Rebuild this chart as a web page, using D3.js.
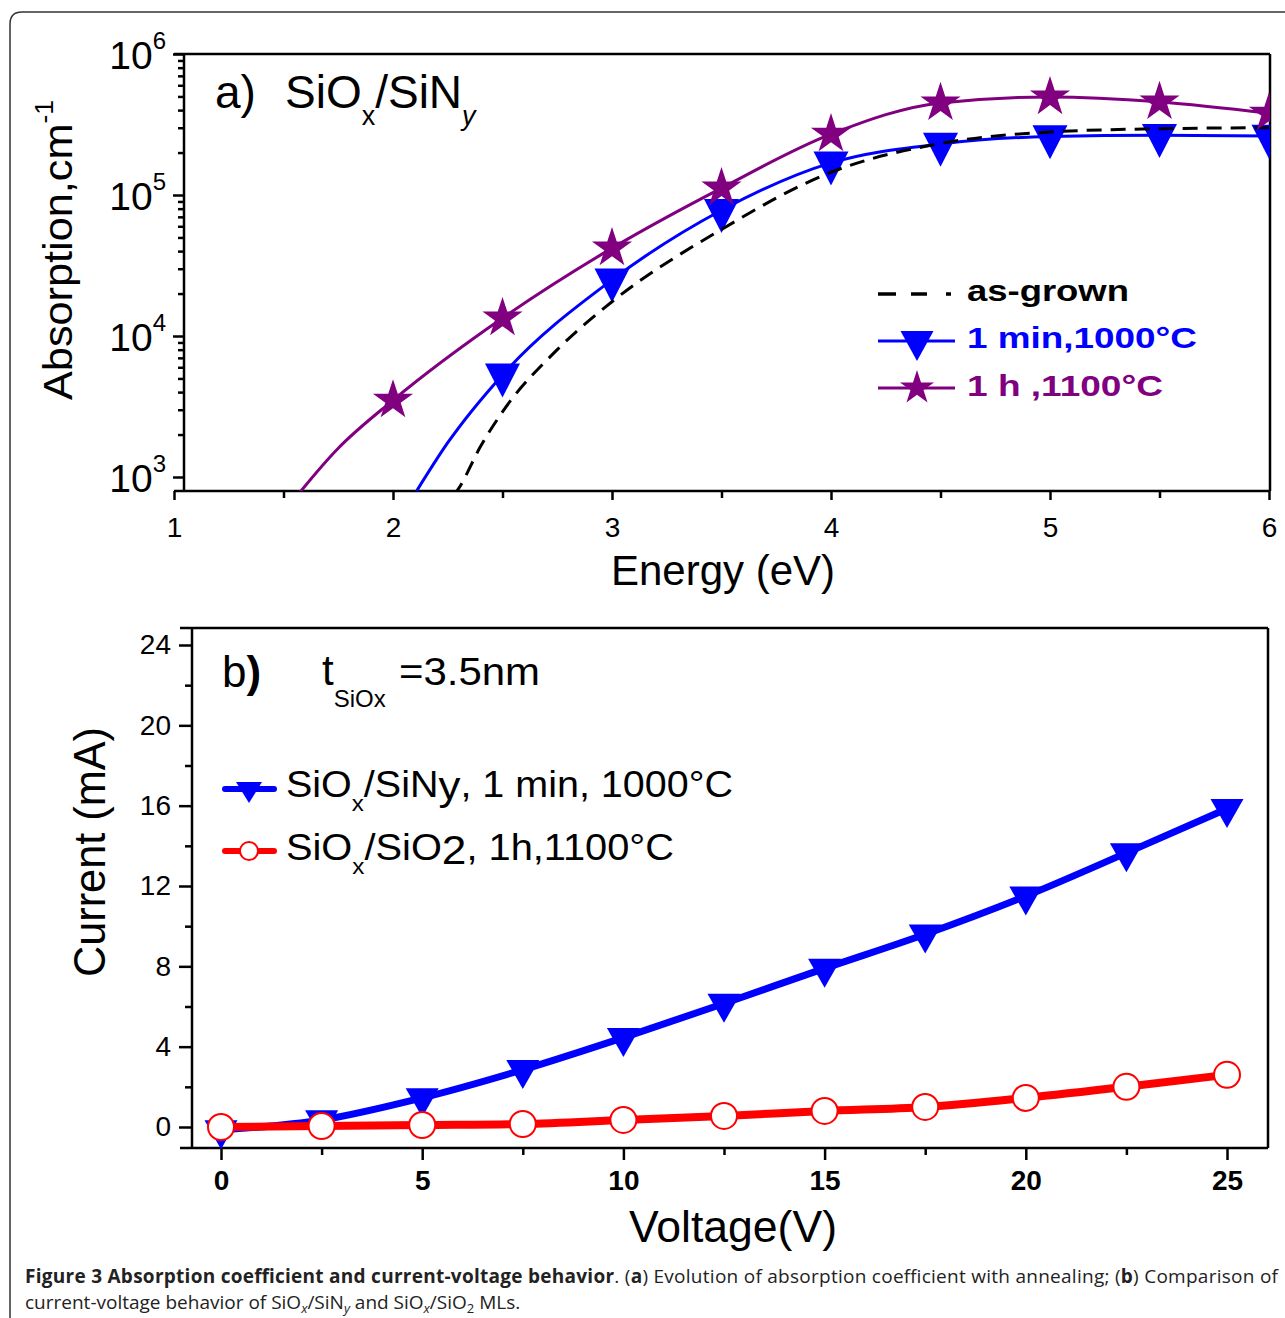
<!DOCTYPE html>
<html><head><meta charset="utf-8">
<script src="https://cdn.jsdelivr.net/npm/d3@7"></script>
<style>body{margin:0;background:#fff} svg{display:block} svg text{font-family:"Liberation Sans", Arial, Helvetica, sans-serif;}</style>
</head><body>
<script>
// ---------- Panel a data (absorption coefficient, cm^-1 vs energy, eV) ----------
const asGrownE = [2.2, 2.3, 2.4, 2.5, 2.75, 3, 3.5, 4, 4.5, 5, 5.5, 6];
const asGrownA = [560, 830, 1650, 2900, 8000, 17500, 57000, 145000, 232000, 280000, 295000, 300000];
const min1E = [2.1, 2.25, 2.5, 3, 3.5, 4, 4.5, 5, 5.5, 6];
const min1A = [760, 1750, 5300, 25000, 78000, 169000, 230000, 260000, 265000, 262000];
const h1E = [1.5, 1.75, 2, 2.5, 3, 3.5, 4, 4.5, 5, 5.5, 6];
const h1A = [560, 1600, 3500, 13400, 42000, 112000, 270000, 450000, 495000, 457000, 380000];
const markerE = [2, 2.5, 3, 3.5, 4, 4.5, 5, 5.5, 6];
const energyTicks = [1, 2, 3, 4, 5, 6];
const energyMinor = [1.5, 2.5, 3.5, 4.5, 5.5];
const absDecades = [3, 4, 5, 6];
const legendA = ["as-grown", "1 min,1000°C", "1 h ,1100°C"];

// ---------- Panel b data (current, mA vs voltage, V) ----------
const voltage = [0, 2.5, 5, 7.5, 10, 12.5, 15, 17.5, 20, 22.5, 25];
const currentSiN = [-0.15, 0.35, 1.45, 2.85, 4.45, 6.15, 7.9, 9.6, 11.5, 13.65, 15.85];
const currentSiO2 = [0.0, 0.05, 0.1, 0.15, 0.35, 0.55, 0.8, 1.0, 1.45, 2.0, 2.6];
const voltTicks = [0, 5, 10, 15, 20, 25];
const voltMinor = [2.5, 7.5, 12.5, 17.5, 22.5];
const currTicks = [0, 4, 8, 12, 16, 20, 24];
const currMinor = [2, 6, 10, 14, 18, 22];

const W = 1285, H = 1318;
const FONT = "Liberation Sans, Arial, Helvetica, sans-serif";
const PURPLE = "#800080", BLUE = "#0000ff", RED = "#ff0000";

const svg = d3.select("body").append("svg").attr("width", W).attr("height", H)
  .attr("font-family", FONT);
svg.append("rect").attr("width", W).attr("height", H).attr("fill", "#fff");
svg.append("path").attr("d", "M1300,12 H22 Q10,12 10,24 V1340")
  .attr("fill", "none").attr("stroke", "#333").attr("stroke-width", 1.5);

function line(g, x1, y1, x2, y2, w) {
  g.append("line").attr("x1", x1).attr("y1", y1).attr("x2", x2).attr("y2", y2)
    .attr("stroke", "#000").attr("stroke-width", w || 2.5);
}
function styleAxis(g, w) {
  g.attr("font-family", FONT);
  g.select(".domain").remove();
  g.selectAll(".tick line").attr("stroke", "#000").attr("stroke-width", w || 2.5);
}
function downTri(w, h) {
  return `M${-w/2},${-h/3} L${w/2},${-h/3} L0,${2*h/3} Z`;
}

// ================= Panel a =================
const A = {left: 184, right: 1270, top: 54, bottom: 491};
const xA = d3.scaleLinear().domain([1, 6]).range([174, 1269]);
const yA = d3.scaleLog().domain([1e3, 1e6]).range([477, 54]);
const gA = svg.append("g");

svg.append("defs").append("clipPath").attr("id", "clipA").append("rect")
  .attr("x", A.left).attr("y", A.top).attr("width", A.right - A.left).attr("height", A.bottom - A.top);

const xAxA = gA.append("g").attr("transform", `translate(0,${A.bottom})`)
  .call(d3.axisBottom(xA).tickValues(energyTicks).tickSize(9).tickPadding(17).tickFormat(d3.format("d")));
styleAxis(xAxA);
xAxA.selectAll("text").attr("font-size", 28).attr("font-family", FONT).attr("fill", "#000");
styleAxis(gA.append("g").attr("transform", `translate(0,${A.bottom})`)
  .call(d3.axisBottom(xA).tickValues(energyMinor).tickSize(7).tickFormat("")));

const majorsA = absDecades.map(d => Math.pow(10, d));
const minorsA = [];
absDecades.forEach(d => { if (d < 6) for (let k = 2; k <= 9; k++) minorsA.push(k * Math.pow(10, d)); });
styleAxis(gA.append("g").attr("transform", `translate(${A.left},0)`)
  .call(d3.axisLeft(yA).tickValues(majorsA).tickSize(11).tickFormat("")));
styleAxis(gA.append("g").attr("transform", `translate(${A.left},0)`)
  .call(d3.axisLeft(yA).tickValues(minorsA).tickSize(6).tickFormat("")));

absDecades.forEach(d => {
  const t = gA.append("text").attr("x", 166).attr("y", yA(Math.pow(10, d)) + 15)
    .attr("text-anchor", "end").attr("font-size", 39).attr("fill", "#000");
  t.append("tspan").text("10");
  t.append("tspan").attr("font-size", 24).attr("dy", -20).text(d);
});

line(gA, 174, A.bottom, A.right, A.bottom);
line(gA, 174, A.top, A.right, A.top);
line(gA, A.right, A.top, A.right, A.bottom);
line(gA, A.left, A.top, A.left, A.bottom);

const plotA = gA.append("g").attr("clip-path", "url(#clipA)");
const curveA = d3.line().x(d => xA(d[0])).y(d => yA(d[1])).curve(d3.curveMonotoneX);
const blueData = min1E.map((e, i) => [e, min1A[i]]);
const blackData = asGrownE.map((e, i) => [e, asGrownA[i]]);
const purpData = h1E.map((e, i) => [e, h1A[i]]);

plotA.append("path").datum(blueData).attr("d", curveA).attr("fill", "none").attr("stroke", BLUE).attr("stroke-width", 3);
plotA.selectAll(".tri").data(blueData.filter(d => markerE.includes(d[0]))).enter().append("path")
  .attr("transform", d => `translate(${xA(d[0])},${yA(d[1])})`).attr("d", downTri(35, 34)).attr("fill", BLUE);
plotA.append("path").datum(blackData).attr("d", curveA).attr("fill", "none").attr("stroke", "#000")
  .attr("stroke-width", 3).attr("stroke-dasharray", "15,9");
plotA.append("path").datum(purpData).attr("d", curveA).attr("fill", "none").attr("stroke", PURPLE).attr("stroke-width", 3);
const star = d3.symbol().type(d3.symbolStar).size(500);
plotA.selectAll(".star").data(purpData.filter(d => markerE.includes(d[0]))).enter().append("path")
  .attr("transform", d => `translate(${xA(d[0])},${yA(d[1])})`).attr("d", star).attr("fill", PURPLE);

const tA = gA.append("text").attr("x", 215).attr("y", 108).attr("font-size", 46).attr("fill", "#000");
tA.append("tspan").text("a)");
tA.append("tspan").attr("x", 285).text("SiO");
tA.append("tspan").attr("font-size", 27).attr("dy", 17).text("x");
tA.append("tspan").attr("dy", -17).text("/SiN");
tA.append("tspan").attr("font-size", 27).attr("dy", 17).attr("font-style", "italic").text("y");

const legY = [294, 341, 388];
const legTxtY = [301, 348, 396];
const legW = [162, 230, 196];
const legC = ["#000", BLUE, PURPLE];
gA.append("line").attr("x1", 878).attr("x2", 952).attr("y1", legY[0]).attr("y2", legY[0])
  .attr("stroke", "#000").attr("stroke-width", 3.5).attr("stroke-dasharray", "18,15,16,19,5");
gA.append("line").attr("x1", 878).attr("x2", 955).attr("y1", legY[1]).attr("y2", legY[1]).attr("stroke", BLUE).attr("stroke-width", 3);
gA.append("path").attr("transform", `translate(917,${legY[1]})`).attr("d", downTri(33, 30)).attr("fill", BLUE);
gA.append("line").attr("x1", 878).attr("x2", 955).attr("y1", legY[2]).attr("y2", legY[2]).attr("stroke", PURPLE).attr("stroke-width", 3);
gA.append("path").attr("transform", `translate(917,${legY[2]})`).attr("d", d3.symbol().type(d3.symbolStar).size(360)).attr("fill", PURPLE);
legendA.forEach((s, i) => {
  gA.append("text").attr("x", 967).attr("y", legTxtY[i]).attr("font-size", 30).attr("font-weight", "bold")
    .attr("fill", legC[i]).attr("textLength", legW[i]).attr("lengthAdjust", "spacingAndGlyphs").text(s);
});

gA.append("text").attr("x", 723).attr("y", 585).attr("text-anchor", "middle").attr("font-size", 42)
  .attr("fill", "#000").text("Energy (eV)");
const yl = gA.append("text").attr("transform", "translate(72,250) rotate(-90)").attr("text-anchor", "middle")
  .attr("font-size", 41).attr("fill", "#000").attr("textLength", 300).attr("lengthAdjust", "spacingAndGlyphs");
yl.append("tspan").text("Absorption,cm");
yl.append("tspan").attr("font-size", 25).attr("dy", -19).text("-1");

// ================= Panel b =================
const B = {left: 192, right: 1268, top: 628, bottom: 1148};
const xB = d3.scaleLinear().domain([0, 25]).range([221, 1227]);
const yB = d3.scaleLinear().domain([0, 24]).range([1127, 645]);
const gB = svg.append("g");

const xAxB = gB.append("g").attr("transform", `translate(0,${B.bottom})`)
  .call(d3.axisBottom(xB).tickValues(voltTicks).tickSize(12).tickPadding(10).tickFormat(d3.format("d")));
styleAxis(xAxB);
xAxB.selectAll("text").attr("font-size", 28).attr("font-weight", "bold").attr("font-family", FONT).attr("fill", "#000");
styleAxis(gB.append("g").attr("transform", `translate(0,${B.bottom})`)
  .call(d3.axisBottom(xB).tickValues(voltMinor).tickSize(7).tickFormat("")));

const yAxB = gB.append("g").attr("transform", `translate(${B.left},0)`)
  .call(d3.axisLeft(yB).tickValues(currTicks).tickSize(13).tickPadding(8).tickFormat(d3.format("d")));
styleAxis(yAxB);
yAxB.selectAll("text").attr("font-size", 28).attr("font-family", FONT).attr("fill", "#000");
styleAxis(gB.append("g").attr("transform", `translate(${B.left},0)`)
  .call(d3.axisLeft(yB).tickValues(currMinor).tickSize(7).tickFormat("")));

line(gB, 180, B.bottom, B.right, B.bottom);
line(gB, 180, B.top, B.right, B.top);
line(gB, B.right, B.top, B.right, B.bottom);
line(gB, B.left, B.top, B.left, B.bottom);

const curveB = d3.line().x(d => xB(d[0])).y(d => yB(d[1])).curve(d3.curveMonotoneX);
const sinData = voltage.map((v, i) => [v, currentSiN[i]]);
const sio2Data = voltage.map((v, i) => [v, currentSiO2[i]]);
gB.append("path").datum(sinData).attr("d", curveB).attr("fill", "none").attr("stroke", BLUE).attr("stroke-width", 7);
gB.selectAll(".triB").data(sinData).enter().append("path")
  .attr("transform", d => `translate(${xB(d[0])},${yB(d[1])})`).attr("d", downTri(33, 29)).attr("fill", BLUE);
gB.append("path").datum(sio2Data).attr("d", curveB).attr("fill", "none").attr("stroke", RED).attr("stroke-width", 8);
gB.selectAll(".circB").data(sio2Data).enter().append("circle")
  .attr("cx", d => xB(d[0])).attr("cy", d => yB(d[1])).attr("r", 13)
  .attr("fill", "#fff").attr("stroke", RED).attr("stroke-width", 2);

const tb = gB.append("text").attr("x", 222).attr("y", 687).attr("font-size", 44).attr("fill", "#000");
tb.append("tspan").text("b");
tb.append("tspan").attr("font-weight", "bold").text(")");
const tt = gB.append("text").attr("x", 322).attr("y", 685).attr("font-size", 42).attr("fill", "#000");
tt.append("tspan").text("t");
tt.append("tspan").attr("font-size", 24).attr("dy", 22).text("SiOx");
gB.append("text").attr("x", 399).attr("y", 685).attr("font-size", 38).attr("fill", "#000")
  .attr("textLength", 141).attr("lengthAdjust", "spacingAndGlyphs").text("=3.5nm");

gB.append("line").attr("x1", 225).attr("x2", 274).attr("y1", 789).attr("y2", 789)
  .attr("stroke", BLUE).attr("stroke-width", 6).attr("stroke-linecap", "round");
gB.append("path").attr("transform", "translate(249,789)").attr("d", downTri(26, 21)).attr("fill", BLUE);
gB.append("line").attr("x1", 225).attr("x2", 274).attr("y1", 851).attr("y2", 851)
  .attr("stroke", RED).attr("stroke-width", 6).attr("stroke-linecap", "round");
gB.append("circle").attr("cx", 249).attr("cy", 851).attr("r", 9).attr("fill", "#fff").attr("stroke", RED).attr("stroke-width", 2);

const l1 = gB.append("text").attr("x", 286).attr("y", 797).attr("font-size", 36).attr("fill", "#000")
  .attr("textLength", 447).attr("lengthAdjust", "spacingAndGlyphs");
l1.append("tspan").text("SiO");
l1.append("tspan").attr("font-size", 22).attr("dy", 14).text("x");
l1.append("tspan").attr("dy", -14).text("/SiN");
l1.append("tspan").attr("font-size", 40).attr("dy", 3).text("y");
l1.append("tspan").attr("dy", -3).text(", 1 min, 1000°C");
const l2 = gB.append("text").attr("x", 286).attr("y", 860).attr("font-size", 36).attr("fill", "#000")
  .attr("textLength", 388).attr("lengthAdjust", "spacingAndGlyphs");
l2.append("tspan").text("SiO");
l2.append("tspan").attr("font-size", 22).attr("dy", 14).text("x");
l2.append("tspan").attr("dy", -14).text("/SiO");
l2.append("tspan").attr("font-size", 40).attr("dy", 4).text("2");
l2.append("tspan").attr("dy", -4).text(", 1h,1100°C");

gB.append("text").attr("x", 733).attr("y", 1242).attr("text-anchor", "middle").attr("font-size", 44)
  .attr("fill", "#000").attr("textLength", 208).attr("lengthAdjust", "spacingAndGlyphs").text("Voltage(V)");
gB.append("text").attr("transform", "translate(105,852) rotate(-90)").attr("text-anchor", "middle")
  .attr("font-size", 45).attr("fill", "#000").attr("textLength", 250).attr("lengthAdjust", "spacingAndGlyphs")
  .text("Current (mA)");

// ================= Caption =================
const CF = "Open Sans, Noto Sans, sans-serif";
const c1 = svg.append("text").attr("x", 25).attr("y", 1283).style("font-family", CF).attr("font-size", 19)
  .attr("fill", "#222").attr("textLength", 1253).attr("lengthAdjust", "spacing");
c1.append("tspan").attr("font-weight", "bold").text("Figure 3 Absorption coefficient and current-voltage behavior");
c1.append("tspan").text(". (");
c1.append("tspan").attr("font-weight", "bold").text("a");
c1.append("tspan").text(") Evolution of absorption coefficient with annealing; (");
c1.append("tspan").attr("font-weight", "bold").text("b");
c1.append("tspan").text(") Comparison of");
const c2 = svg.append("text").attr("x", 25).attr("y", 1309).style("font-family", CF).attr("font-size", 19).attr("fill", "#222");
c2.append("tspan").text("current-voltage behavior of SiO");
c2.append("tspan").attr("font-size", 13).attr("font-style", "italic").attr("dy", 4).text("x");
c2.append("tspan").attr("dy", -4).text("/SiN");
c2.append("tspan").attr("font-size", 13).attr("font-style", "italic").attr("dy", 4).text("y");
c2.append("tspan").attr("dy", -4).text(" and SiO");
c2.append("tspan").attr("font-size", 13).attr("font-style", "italic").attr("dy", 4).text("x");
c2.append("tspan").attr("dy", -4).text("/SiO");
c2.append("tspan").attr("font-size", 13).attr("dy", 4).text("2");
c2.append("tspan").attr("dy", -4).text(" MLs.");
</script>
</body></html>
